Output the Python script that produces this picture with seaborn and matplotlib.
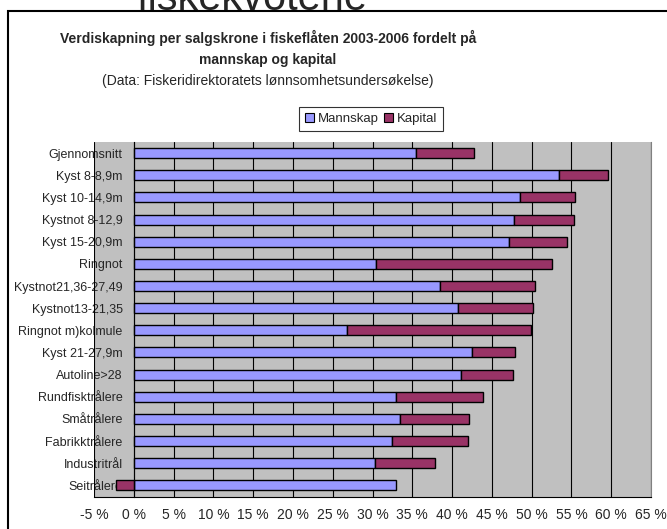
import numpy as np
import pandas as pd
import matplotlib
matplotlib.use('Agg')
import matplotlib.pyplot as plt
import seaborn as sns
from matplotlib.patches import Rectangle, Patch
from matplotlib.ticker import FixedLocator

categories = ['Gjennomsnitt', 'Kyst 8-8,9m', 'Kyst 10-14,9m', 'Kystnot 8-12,9', 'Kyst 15-20,9m',
              'Ringnot', 'Kystnot21,36-27,49', 'Kystnot13-21,35', 'Ringnot m)kolmule',
              'Kyst 21-27,9m', 'Autoline>28', 'Rundfisktrålere', 'Småtrålere',
              'Fabrikktrålere', 'Industritrål', 'Seitrålere']
mannskap = [35.5, 53.4, 48.5, 47.8, 47.1, 30.5, 38.5, 40.7, 26.8,
            42.5, 41.1, 33.0, 33.4, 32.5, 30.3, 32.9]
kapital = [7.3, 6.2, 7.0, 7.5, 7.3, 22.0, 11.9, 9.5, 23.1,
           5.4, 6.6, 10.9, 8.7, 9.5, 7.6, -2.2]
xticks = list(range(-5, 70, 5))

df = pd.DataFrame({'kategori': categories, 'Mannskap': mannskap, 'Kapital': kapital})

sns.set_style('white')
plt.rcParams['font.family'] = ['Liberation Sans', 'DejaVu Sans']

W, H = 667, 529
fig = plt.figure(figsize=(W / 100, H / 100), dpi=100)
ax = fig.add_axes([94 / W, 1 - 496.5 / H, (651 - 94) / W, (496.5 - 142) / H])
ax.set_facecolor('#C0C0C0')

# vertical gridlines
for xv in xticks:
    ax.axvline(xv, color='black', lw=0.8, zorder=1)

bar_h = 0.45
sns.barplot(data=df, x='Mannskap', y='kategori', orient='h', color='#9999FF',
            saturation=1, width=bar_h, edgecolor='black', linewidth=1, ax=ax, zorder=3)
ypos = np.arange(len(categories))
kap = df['Kapital'].values
left = np.where(kap < 0, 0, df['Mannskap'].values)
ax.barh(ypos, kap, left=left, height=bar_h, color='#993366', edgecolor='black',
        linewidth=1, zorder=3)

ax.set_xlim(-5, 65)
ax.set_ylim(len(categories) - 0.5, -0.5)
ax.set_xticks(xticks)
ax.set_xticklabels([f'{v} %' for v in xticks], fontsize=10)
ax.set_xlabel('')
ax.set_ylabel('')
ax.tick_params(axis='x', direction='out', length=4, width=1, color='black', pad=4)

ax.spines['left'].set_position(('data', 0))
ax.spines['left'].set_color('black')
ax.spines['left'].set_zorder(4)
ax.spines['bottom'].set_color('black')
ax.spines['top'].set_visible(False)
ax.spines['right'].set_color('#808080')
ax.set_yticks(ypos)
ax.set_yticklabels(categories, fontsize=9)
ax.tick_params(axis='y', which='major', length=0, pad=8)
ax.yaxis.set_minor_locator(FixedLocator(np.arange(-0.5, len(categories), 1)))
ax.tick_params(axis='y', which='minor', direction='out', length=4, width=1, color='black')
for lab in ax.get_yticklabels():
    lab.set_zorder(5)

# titles
fig.text(252 / W, 1 - 10 / H, 'fiskekvotene', fontsize=30, ha='center', va='baseline')
fig.text(268 / W, 1 - 38 / H, 'Verdiskapning per salgskrone i fiskeflåten 2003-2006 fordelt på',
         fontsize=10, fontweight='bold', ha='center', va='center')
fig.text(268 / W, 1 - 60 / H, 'mannskap og kapital', fontsize=10, fontweight='bold',
         ha='center', va='center')
fig.text(268 / W, 1 - 81 / H, '(Data: Fiskeridirektoratets lønnsomhetsundersøkelse)',
         fontsize=10, ha='center', va='center')

# border of chart area
fig.patches.append(Rectangle((8 / W, -0.1), 1.2, 1 - 11 / H + 0.1, transform=fig.transFigure,
                             fill=False, edgecolor='black', lw=1.5))

handles = [Patch(facecolor='#9999FF', edgecolor='black', lw=0.8, label='Mannskap'),
           Patch(facecolor='#993366', edgecolor='black', lw=0.8, label='Kapital')]
leg = fig.legend(handles=handles, loc='center', bbox_to_anchor=(371 / W, 1 - 119 / H), ncol=2,
                 fontsize=9.5, frameon=True, fancybox=False, edgecolor='black',
                 handlelength=0.7, handleheight=0.7, handletextpad=0.25, columnspacing=0.4,
                 borderpad=0.45, borderaxespad=0)
leg.get_frame().set_linewidth(0.8)

fig.savefig('out.png', dpi=100)
